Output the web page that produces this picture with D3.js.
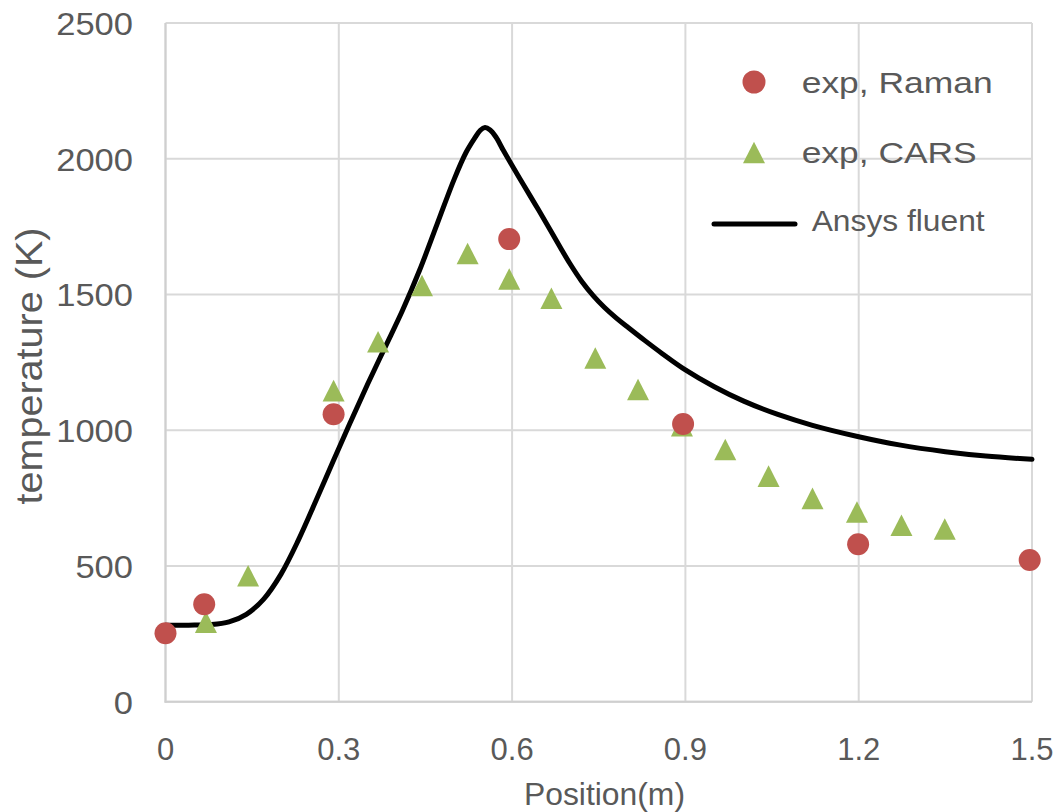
<!DOCTYPE html>
<html>
<head>
<meta charset="utf-8">
<script src="https://cdn.jsdelivr.net/npm/d3@7"></script>
<style>
  html, body { margin: 0; padding: 0; background: #fff; }
  svg { display: block; font-family: "Liberation Sans", Arial, sans-serif; }
</style>
</head>
<body>
<svg id="chart" width="1058" height="812"></svg>
<script>
// ---- data ----
const ramanX = [0, 0.067, 0.291, 0.595, 0.896, 1.199, 1.496];
const ramanT = [252, 359, 1059, 1704, 1023, 580, 522];

const carsX = [0.070, 0.143, 0.291, 0.368, 0.444, 0.523, 0.595, 0.668, 0.744, 0.818, 0.894, 0.969, 1.044, 1.120, 1.197, 1.274, 1.349];
const carsT = [293, 464, 1146, 1326, 1533, 1651, 1557, 1486, 1266, 1150, 1017, 929, 831, 749, 699, 650, 636];

const fluentX = [0, 0.04, 0.08, 0.11, 0.14, 0.17, 0.20, 0.23, 0.26, 0.29, 0.32, 0.35, 0.38, 0.41, 0.44, 0.47, 0.50, 0.52, 0.535, 0.545, 0.553, 0.562, 0.572, 0.585, 0.60, 0.62, 0.64, 0.66, 0.683, 0.70, 0.72, 0.74, 0.76, 0.78, 0.80, 0.83, 0.86, 0.90, 0.95, 1.0, 1.06, 1.12, 1.2, 1.27, 1.35, 1.42, 1.5];
const fluentT = [282, 282, 284, 294, 322, 378, 470, 595, 738, 885, 1029, 1170, 1305, 1440, 1590, 1758, 1926, 2022, 2075, 2105, 2115, 2106, 2080, 2030, 1975, 1903, 1832, 1760, 1675, 1614, 1550, 1497, 1452, 1414, 1380, 1330, 1282, 1222, 1160, 1108, 1058, 1018, 976, 946, 921, 905, 893];

const xTicks = [0, 0.3, 0.6, 0.9, 1.2, 1.5];
const xTickLabels = ["0", "0.3", "0.6", "0.9", "1.2", "1.5"];
const yTicks = [0, 500, 1000, 1500, 2000, 2500];
const yTickLabels = ["0", "500", "1000", "1500", "2000", "2500"];

const seriesNames = ["exp, Raman", "exp, CARS", "Ansys fluent"];

// ---- layout ----
const svg = d3.select("#chart");
const x = d3.scaleLinear().domain([0, 1.5]).range([165.5, 1032]);
const y = d3.scaleLinear().domain([0, 2500]).range([701.7, 23]);

const red = "#c0504d", green = "#9bbb59", textCol = "#595959", gridCol = "#d9d9d9";

// gridlines
svg.append("g").selectAll("line.h").data(yTicks).join("line")
  .attr("x1", x(0)).attr("x2", x(1.5))
  .attr("y1", d => y(d)).attr("y2", d => y(d))
  .attr("stroke", gridCol).attr("stroke-width", 2);
svg.append("g").selectAll("line.v").data(xTicks).join("line")
  .attr("x1", d => x(d)).attr("x2", d => x(d))
  .attr("y1", y(0)).attr("y2", y(2500))
  .attr("stroke", gridCol).attr("stroke-width", 2);
svg.append("line").attr("x1", x(0)).attr("x2", x(0)).attr("y1", y(0) + 1).attr("y2", y(2500))
  .attr("stroke", "#cfcfcf").attr("stroke-width", 2);
svg.append("line").attr("x1", x(0) - 1).attr("x2", x(1.5)).attr("y1", y(0)).attr("y2", y(0))
  .attr("stroke", "#cfcfcf").attr("stroke-width", 2);

// y tick labels
svg.append("g").selectAll("text").data(yTicks).join("text")
  .attr("x", 133).attr("y", d => y(d) + 12)
  .attr("text-anchor", "end")
  .attr("font-size", 31).attr("fill", textCol)
  .attr("textLength", (d, i) => yTickLabels[i].length * 19.2)
  .attr("lengthAdjust", "spacingAndGlyphs")
  .text((d, i) => yTickLabels[i]);

// x tick labels
svg.append("g").selectAll("text").data(xTicks).join("text")
  .attr("x", d => x(d)).attr("y", 760)
  .attr("text-anchor", "middle")
  .attr("font-size", 31).attr("fill", textCol)
  .text((d, i) => xTickLabels[i]);

// axis titles
svg.append("text")
  .attr("x", 604.5).attr("y", 805)
  .attr("text-anchor", "middle")
  .attr("font-size", 31).attr("fill", textCol)
  .attr("textLength", 161).attr("lengthAdjust", "spacingAndGlyphs")
  .text("Position(m)");
svg.append("text")
  .attr("transform", "translate(42,366) rotate(-90)")
  .attr("text-anchor", "middle")
  .attr("font-size", 36).attr("fill", textCol)
  .attr("textLength", 277).attr("lengthAdjust", "spacingAndGlyphs")
  .text("temperature (K)");

// fluent line
const lineData = fluentX.map((v, i) => [v, fluentT[i]]);
svg.append("path")
  .datum(lineData)
  .attr("fill", "none").attr("stroke", "#000").attr("stroke-width", 5)
  .attr("stroke-linecap", "round").attr("stroke-linejoin", "round")
  .attr("d", d3.line().x(d => x(d[0])).y(d => y(d[1])).curve(d3.curveCatmullRom.alpha(0.5)));

// CARS triangles (bbox-centred, 22 wide x 21.6 tall)
const tri = "M0,-10.8L11,10.8L-11,10.8Z";
svg.append("g").selectAll("path").data(carsX.map((v, i) => [v, carsT[i]])).join("path")
  .attr("transform", d => `translate(${x(d[0])},${y(d[1])})`)
  .attr("d", tri).attr("fill", green);

// Raman circles
svg.append("g").selectAll("circle").data(ramanX.map((v, i) => [v, ramanT[i]])).join("circle")
  .attr("cx", d => x(d[0])).attr("cy", d => y(d[1]))
  .attr("r", 11).attr("fill", red);

// legend
const lg = svg.append("g");
lg.append("circle").attr("cx", 754).attr("cy", 82).attr("r", 11.5).attr("fill", red);
lg.append("path").attr("transform", "translate(754,152.5)").attr("d", tri).attr("fill", green);
lg.append("line").attr("x1", 714).attr("x2", 795).attr("y1", 224).attr("y2", 224)
  .attr("stroke", "#000").attr("stroke-width", 5).attr("stroke-linecap", "round");
lg.append("text").attr("x", 801.7).attr("y", 93.3).attr("font-size", 30).attr("fill", textCol)
  .attr("textLength", 191).attr("lengthAdjust", "spacingAndGlyphs").text(seriesNames[0]);
lg.append("text").attr("x", 801.7).attr("y", 162.7).attr("font-size", 30).attr("fill", textCol)
  .attr("textLength", 175).attr("lengthAdjust", "spacingAndGlyphs").text(seriesNames[1]);
lg.append("text").attr("x", 811.7).attr("y", 230.7).attr("font-size", 29).attr("fill", textCol)
  .attr("textLength", 173).attr("lengthAdjust", "spacingAndGlyphs").text(seriesNames[2]);
</script>
</body>
</html>
